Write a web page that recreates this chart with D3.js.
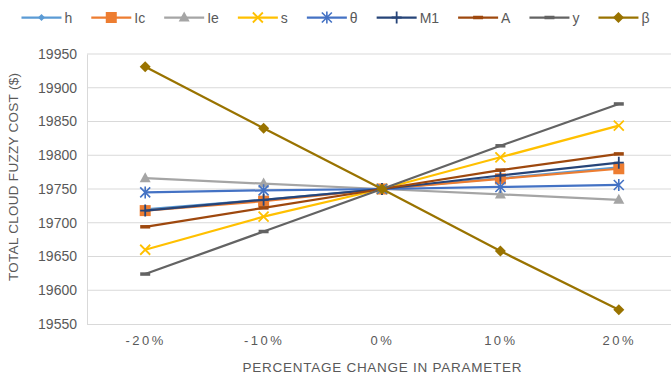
<!DOCTYPE html>
<html><head><meta charset="utf-8">
<script src="https://cdn.jsdelivr.net/npm/d3@7"></script>
<style>
html,body{margin:0;padding:0;background:#fff;}
svg{display:block;font-family:"Liberation Sans",Arial,sans-serif;}
</style></head>
<body>
<svg id="chart" width="671" height="376"></svg>
<script>
const categories = ["-20%", "-10%", "0%", "10%", "20%"];
const seriesNames = ["h", "Ic", "Ie", "s", "θ", "M1", "A", "y", "β"];
const h_vals  = [19720, 19734, 19750, 19766, 19782];
const Ic_vals = [19718, 19732, 19750, 19765, 19780];
const Ie_vals = [19766, 19758, 19750, 19742, 19734];
const s_vals  = [19660, 19709, 19750, 19797, 19844];
const th_vals = [19745, 19748, 19750, 19753, 19756];
const M1_vals = [19718, 19734, 19750, 19770, 19789];
const A_vals  = [19694, 19722, 19750, 19778, 19802];
const y_vals  = [19624, 19687, 19750, 19814, 19876];
const b_vals  = [19931, 19840, 19750, 19658, 19571];
const yTicks = [19550, 19600, 19650, 19700, 19750, 19800, 19850, 19900, 19950];
const yTitle = "TOTAL CLOUD FUZZY COST ($)";
const xTitle = "PERCENTAGE CHANGE IN PARAMETER";

const colors = ["#5B9BD5", "#ED7D31", "#A5A5A5", "#FFC000", "#4472C4", "#264478", "#9E480E", "#636363", "#997300"];
const markers = ["diamondSmall", "square", "triangle", "x", "star", "plus", "dash", "dash", "diamond"];
const allVals = [h_vals, Ic_vals, Ie_vals, s_vals, th_vals, M1_vals, A_vals, y_vals, b_vals];
const series = seriesNames.map((n, i) => ({name: n, values: allVals[i], color: colors[i], marker: markers[i]}));

const svg = d3.select("#chart");
const pLeft = 87, pRight = 678, pTop = 54, pBottom = 324;
const x = d3.scalePoint().domain(categories).range([pLeft - 1, pRight]).padding(0.5);
const y = d3.scaleLinear().domain([19550, 19950]).range([pBottom, pTop]);

// gridlines
svg.append("g").selectAll("line").data(yTicks.filter(t => t !== 19550)).join("line")
  .attr("x1", pLeft).attr("x2", 671).attr("y1", d => y(d)).attr("y2", d => y(d))
  .attr("stroke", "#D9D9D9").attr("stroke-width", 1);

// y axis
const yAxis = svg.append("g").attr("transform", `translate(${pLeft},0)`)
  .call(d3.axisLeft(y).tickValues(yTicks).tickSize(0).tickPadding(10).tickFormat(d3.format("d")));
yAxis.select(".domain").attr("stroke", "#D9D9D9");
yAxis.selectAll("text").attr("fill", "#595959").style("font-size", "14px").style("font-family", "Liberation Sans, Arial, sans-serif");

// x axis
const xAxis = svg.append("g").attr("transform", `translate(0,${pBottom})`)
  .call(d3.axisBottom(x).tickSize(0).tickPadding(12));
xAxis.select(".domain").attr("stroke", "#D9D9D9").attr("d", `M${pLeft},0.5H671`);
xAxis.selectAll("text").attr("fill", "#595959").style("font-size", "13px")
  .style("letter-spacing", "2.5px").style("font-family", "Liberation Sans, Arial, sans-serif");

// titles
svg.append("text").attr("x", 382).attr("y", 372).attr("text-anchor", "middle")
  .attr("fill", "#595959").style("font-size", "13.5px").attr("textLength", 279).text(xTitle);
svg.append("text").attr("transform", "translate(18,177) rotate(-90)").attr("text-anchor", "middle")
  .attr("fill", "#595959").style("font-size", "13.5px").attr("textLength", 208).text(yTitle);

function drawMarker(g, type, color, cx, cy) {
  if (type === "diamondSmall") {
    g.append("path").attr("d", `M${cx},${cy-3.5}L${cx+3.5},${cy}L${cx},${cy+3.5}L${cx-3.5},${cy}Z`).attr("fill", color);
  } else if (type === "diamond") {
    g.append("path").attr("d", `M${cx},${cy-5.5}L${cx+5.5},${cy}L${cx},${cy+5.5}L${cx-5.5},${cy}Z`).attr("fill", color);
  } else if (type === "square") {
    g.append("rect").attr("x", cx-5.5).attr("y", cy-5.5).attr("width", 11).attr("height", 11).attr("fill", color);
  } else if (type === "triangle") {
    g.append("path").attr("d", `M${cx},${cy-6}L${cx+5.5},${cy+4}L${cx-5.5},${cy+4}Z`).attr("fill", color);
  } else if (type === "x") {
    g.append("path").attr("d", `M${cx-5},${cy-5}L${cx+5},${cy+5}M${cx+5},${cy-5}L${cx-5},${cy+5}`).attr("stroke", color).attr("stroke-width", 1.8);
  } else if (type === "star") {
    g.append("path").attr("d", `M${cx-5},${cy-5}L${cx+5},${cy+5}M${cx+5},${cy-5}L${cx-5},${cy+5}M${cx},${cy-6}V${cy+6}`).attr("stroke", color).attr("stroke-width", 1.6);
  } else if (type === "plus") {
    g.append("path").attr("d", `M${cx},${cy-6}V${cy+6}M${cx-5},${cy}H${cx+5}`).attr("stroke", color).attr("stroke-width", 1.8);
  } else if (type === "dash") {
    g.append("path").attr("d", `M${cx-5},${cy}H${cx+5}`).attr("stroke", color).attr("stroke-width", 3.5);
  }
}

const line = d3.line().x((d, i) => x(categories[i])).y(d => y(d));
series.forEach(s => {
  const g = svg.append("g");
  g.append("path").attr("d", line(s.values)).attr("fill", "none")
    .attr("stroke", s.color).attr("stroke-width", 2.25).attr("stroke-linejoin", "round");
  s.values.forEach((v, i) => drawMarker(g, s.marker, s.color, x(categories[i]), y(v)));
});

// legend
const legend = svg.append("g");
const items = [];
let total = 0;
series.forEach((s, i) => {
  const t = legend.append("text").attr("fill", "#595959").style("font-size", "14px").text(s.name);
  const w = t.node().getComputedTextLength();
  items.push({s, t, w});
  total += 40 + 3 + w + (i < series.length - 1 ? 19 : 0);
});
let lx = 335.5 - total / 2;
const ly = 17.5;
items.forEach(({s, t, w}) => {
  legend.append("line").attr("x1", lx).attr("x2", lx + 40).attr("y1", ly).attr("y2", ly)
    .attr("stroke", s.color).attr("stroke-width", 2.25);
  drawMarker(legend, s.marker, s.color, lx + 20, ly);
  t.attr("x", lx + 43).attr("y", ly + 5);
  lx += 40 + 3 + w + 19;
});
</script>
</body></html>
